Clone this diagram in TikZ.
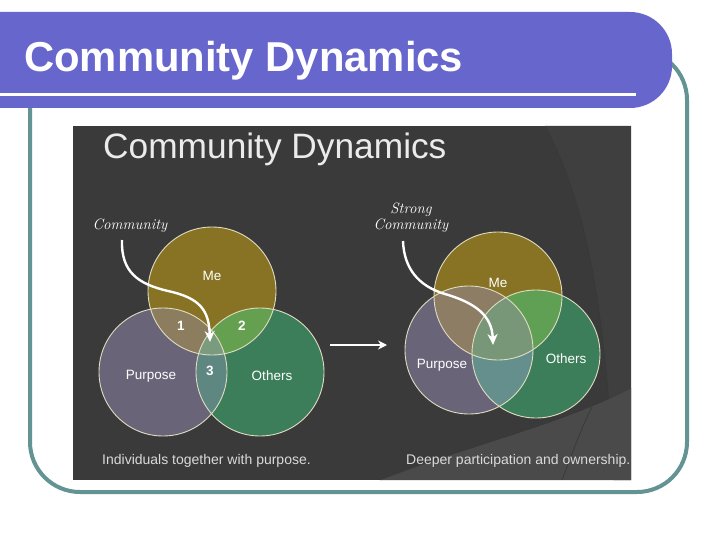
\documentclass[tikz,border=0pt]{standalone}
\usepackage{fontspec}
\newfontfamily\arial{Liberation Sans}
\newfontfamily\handfont{Latin Modern Roman}
\usetikzlibrary{arrows.meta}
\definecolor{banner}{HTML}{6666CC}
\definecolor{frameC}{HTML}{639393}
\definecolor{darkbg}{HTML}{3A3A3A}
\definecolor{darkbgB}{HTML}{3F3F3F}
\definecolor{darkbgC}{HTML}{4A4A4A}
\definecolor{capC}{HTML}{DADADA}
\definecolor{Lme}{HTML}{877323}
\definecolor{Lpu}{HTML}{696478}
\definecolor{Lot}{HTML}{3C7D5A}
\definecolor{Lmp}{HTML}{8C7D5F}
\definecolor{Lmo}{HTML}{64A050}
\definecolor{Lpo}{HTML}{5F8782}
\definecolor{Lall}{HTML}{7A9B7D}
\definecolor{Rme}{HTML}{877323}
\definecolor{Rpu}{HTML}{696478}
\definecolor{Rot}{HTML}{3C7D5A}
\definecolor{Rmp}{HTML}{8C7D64}
\definecolor{Rmo}{HTML}{60A055}
\definecolor{Rpo}{HTML}{648F8C}
\definecolor{Rall}{HTML}{789678}
\definecolor{vlineC}{HTML}{E0DCC0}
\newcommand{\myvenn}[5]{%
 \fill[#5me] #1 circle[radius=#4];
 \fill[#5pu] #2 circle[radius=#4];
 \fill[#5ot] #3 circle[radius=#4];
 \begin{scope}\clip #1 circle[radius=#4]; \fill[#5mp] #2 circle[radius=#4]; \end{scope}
 \begin{scope}\clip #1 circle[radius=#4]; \fill[#5mo] #3 circle[radius=#4]; \end{scope}
 \begin{scope}\clip #2 circle[radius=#4]; \fill[#5po] #3 circle[radius=#4]; \end{scope}
 \begin{scope}\clip #1 circle[radius=#4]; \clip #2 circle[radius=#4]; \fill[#5all] #3 circle[radius=#4]; \end{scope}
 \draw[vline] #1 circle[radius=#4] #2 circle[radius=#4] #3 circle[radius=#4];
}
\begin{document}
\begin{tikzpicture}[x=1pt,y=-1pt,
  vline/.style={draw=vlineC, line width=0.9pt},
  lbl/.style={text=white, font=\arial\fontsize{13.5}{15}\selectfont, inner sep=0pt},
  num/.style={text=white, font=\arial\bfseries\fontsize{13.5}{15}\selectfont, inner sep=0pt},
  hand/.style={text=white, font=\handfont\itshape\fontsize{15}{16}\selectfont, inner sep=0pt, align=center},
  captxt/.style={text=capC, font=\arial\fontsize{14}{15}\selectfont, inner sep=0pt, anchor=west},
  warrow/.style={draw=white, line width=2.4pt, -{Stealth[length=11pt,width=10pt]}},
]
\useasboundingbox (0,0) rectangle (720,540);
\fill[white] (0,0) rectangle (720,540);
% frame
\draw[frameC, line width=4pt, rounded corners=50pt] (30,40) -- (30,492) -- (687,492) -- (687,50) -- (600,50);
% banner
\fill[banner, rounded corners=42pt] (-60,12) rectangle (672,108);
\fill[white] (-5,93.5) rectangle (636,96.5);
\node[anchor=base west, inner sep=0pt, text=white, font=\arial\bfseries\fontsize{41.8}{44}\selectfont] (title) at (24,72) {Community Dynamics};
% dark picture
\fill[darkbg] (73,126) rectangle (631,480);
\begin{scope}
\clip (73,126) rectangle (631,480);
\fill[darkbgB] (545,126) .. controls (585,200) and (605,300) .. (614,480) -- (631,480) -- (631,126) -- cycle;
\draw[black!80, line width=0.6pt, opacity=0.4] (545,126) .. controls (585,200) and (605,300) .. (614,480);
\fill[darkbgC] (380,480) .. controls (470,445) and (560,425) .. (631,388) -- (631,480) -- cycle;
\draw[black!80, line width=0.6pt, opacity=0.4] (380,480) .. controls (470,445) and (560,425) .. (631,388);
\draw[darkbg, line width=0.8pt] (562,480) .. controls (575,445) and (585,420) .. (592,407);
\end{scope}
\node[anchor=base west, inner sep=0pt, text=white!92!black, font=\arial\fontsize{35.3}{37}\selectfont] (itit) at (103,159) {Community Dynamics};
% left venn
\myvenn{(212,291)}{(163,372)}{(260,372)}{64pt}{L}
\node[lbl] (lme) at (212,276) {Me};
\node[lbl] (lpu) at (151,376) {Purpose};
\node[lbl] (lot) at (272,376) {Others};
\node[num] (n1) at (181,326) {1};
\node[num] (n2) at (242,326) {2};
\node[num] (n3) at (210,371) {3};
\node[hand] (lcom) at (130,226) {Community};
\coordinate (ltip) at (210,342);
\coordinate (lstart) at (122,240);
\draw[warrow] (lstart) .. controls (121,272) and (138,284) .. (168,291) .. controls (200,298) and (209,310) .. (ltip);
% right venn
\myvenn{(498,296)}{(469,350)}{(536,354)}{64pt}{R}
\node[lbl] (rme) at (498,283) {Me};
\node[lbl] (rpu) at (442,365) {Purpose};
\node[lbl] (rot) at (566,359) {Others};
\node[hand] (rcom) at (411,218) {Strong\\Community};
\coordinate (rtip) at (493,345);
\coordinate (rstart) at (403,241);
\draw[warrow] (rstart) .. controls (404,268) and (418,286) .. (445,294) .. controls (476,303) and (492,316) .. (rtip);
% middle arrow
\coordinate (ma) at (330,345);
\coordinate (mb) at (387,345);
\draw[draw=white, line width=2.2pt, -{Stealth[length=9pt,width=9pt]}] (ma) -- (mb);
% captions
\node[captxt] (capl) at (102,461) {Individuals together with purpose.};
\node[captxt] (capr) at (406,461) {Deeper participation and ownership.};
\end{tikzpicture}
\end{document}
